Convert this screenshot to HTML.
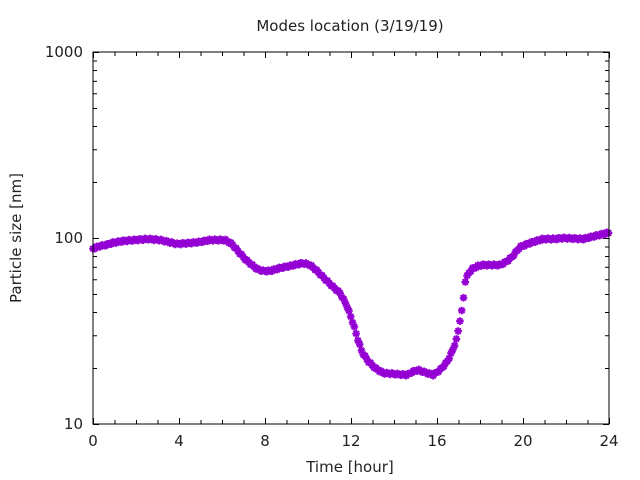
<!DOCTYPE html>
<html><head><meta charset="utf-8"><style>
html,body{margin:0;padding:0;background:#fff;}
svg{display:block;font-family:"DejaVu Sans","Liberation Sans",sans-serif;}
</style></head><body>
<svg id="s" width="640" height="480" viewBox="0 0 640 480" xmlns="http://www.w3.org/2000/svg">
<rect width="640" height="480" fill="#fff"/>
<text x="350" y="31" font-size="15" text-anchor="middle" fill="#222">Modes location (3/19/19)</text>
<text x="350" y="472" font-size="15" text-anchor="middle" fill="#222">Time [hour]</text>
<text transform="translate(21,238) rotate(-90)" font-size="15" text-anchor="middle" fill="#222">Particle size [nm]</text>
<g font-size="15" fill="#222" text-anchor="end">
<text x="83" y="57">1000</text><text x="83" y="243">100</text><text x="83" y="429">10</text>
</g>
<g font-size="15" fill="#222" text-anchor="middle">
<text x="93" y="446">0</text><text x="179" y="446">4</text><text x="265" y="446">8</text><text x="351" y="446">12</text><text x="437" y="446">16</text><text x="523" y="446">20</text><text x="609" y="446">24</text>
</g>
<g id="ticks" stroke="#000" stroke-width="1"></g>
<g id="pts" stroke="#9400d3" stroke-width="2" fill="none"></g>
<rect x="93" y="52" width="516" height="372" fill="none" stroke="#000" stroke-width="1"/>
</svg>
<script>
var ns="http://www.w3.org/2000/svg";
var T=document.getElementById("ticks"),P=document.getElementById("pts");
function ln(g,x1,y1,x2,y2){var l=document.createElementNS(ns,"line");l.setAttribute("x1",x1);l.setAttribute("y1",y1);l.setAttribute("x2",x2);l.setAttribute("y2",y2);g.appendChild(l);}
for(var h=0;h<=24;h++){var x=93+h*21.5+0.5;var L=(h%4==0)?6:4;ln(T,x,424,x,424-L);ln(T,x,52,x,52+L);}
for(var d=0;d<2;d++)for(var m=1;m<=10;m++){var y=424-186*(d+Math.log10(m))+0.5;var L=(m==1||m==10)?6:4;ln(T,93,y,93+L,y);ln(T,609,y,609-L,y);}
var k=[[92,249],[100,246],[106,245],[112,243],[123,241],[135,240],[148,239],[160,240],[177,244],[190,243],[200,242],[210,240],[217,240],[225,240],[232,244],[237,250],[245,259],[252,265],[257,269],[263,271],[270,271],[280,268],[290,266],[303,263],[310,265],[316,270],[323,277],[332,286],[340,293],[347,306],[353,323],[358,340],[362,352],[368,361],[375,368],[383,373],[395,374],[407,375],[412,372],[418,370],[424,372],[433,375],[440,370],[447,362],[452,352],[457,338],[460,320],[462,310],[464,294],[465,282],[468,274],[472,269],[478,266],[483,265],[500,265],[506,262],[512,257],[520,247],[530,243],[543,239],[555,239],[563,238],[583,239],[595,236],[607,233],[609,233]];
function yi(x){for(var i=0;i<k.length-1;i++){if(x>=k[i][0]&&x<=k[i+1][0]){var t=(x-k[i][0])/(k[i+1][0]-k[i][0]);return k[i][1]+t*(k[i+1][1]-k[i][1]);}}return k[k.length-1][1];}
var n=0;
for(var x=93;x<=609;x+=1.79){n++;var y=yi(x)+((n*7)%3-1)*0.8;var p=document.createElementNS(ns,"path");var r=3.8,q=2.7;
p.setAttribute("d","M"+(x-r)+" "+y+"h"+(2*r)+"M"+x+" "+(y-r)+"v"+(2*r)+"M"+(x-q)+" "+(y-q)+"l"+(2*q)+" "+(2*q)+"M"+(x-q)+" "+(y+q)+"l"+(2*q)+" "+(-2*q));P.appendChild(p);}
</script>
</body></html>
